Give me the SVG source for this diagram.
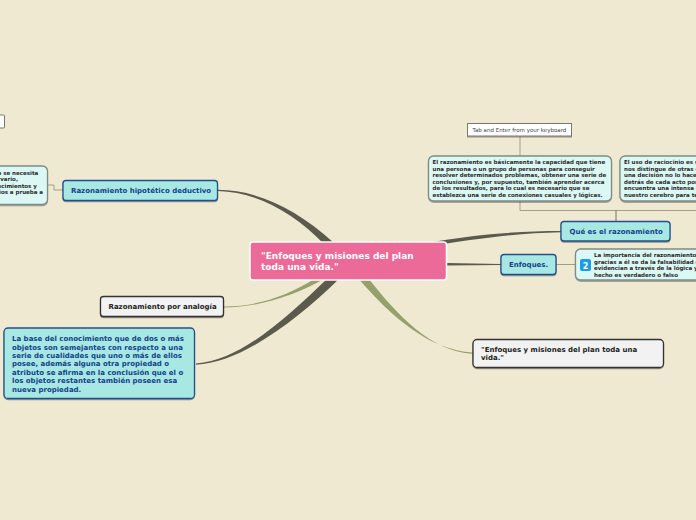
<svg xmlns="http://www.w3.org/2000/svg" width="696" height="520" viewBox="0 0 696 520">
<style>
text{font-family:"DejaVu Sans",sans-serif;font-weight:700}
.dk{fill:#222}
.bl{fill:#14408c}
.t6{font-size:5.500px;fill:#2a2a2a}
.box{stroke-width:1.300}
.cy{fill:#a8e8e2;stroke:#24508c}
.lc{fill:#dcf8f5;stroke:#7d8a88}
.wh{fill:#f2f2f2;stroke:#333}
.thin{fill:none;stroke:#a49d88;stroke-width:1}
</style>
<defs><filter id="s" x="-5%" y="-10%" width="110%" height="125%"><feDropShadow dx="0" dy="1" stdDeviation="0.7" flood-color="#000" flood-opacity=".4"/></filter></defs>
<rect width="696" height="520" fill="#f0e9d2"/>
<g id="connectors">
<path d="M218 189.800C255 190 295 207 334 243L325 245C292 211 255 192 218 191Z" fill="#5b5a4c"/>
<path d="M196 363.500C240 360 282 322 328 278L340 278C295 322 240 363 196 364.700Z" fill="#5b5a4c"/>
<path d="M224 306.500C258 306 285 297 316 278L326 278C292 297 258 307 224 307.600Z" fill="#95a06c"/>
<path d="M472.500 352.500C430 350 392 318 358 278L368 278C398 316 432 352 472.500 353.700Z" fill="#95a06c"/>
<path d="M561 231C520 231 480 234 425 243L425 247C480 238 520 233 561 232.200Z" fill="#5b5a4c"/>
<path d="M501 264L447 263V265.500L501 265Z" fill="#5b5a4c"/>
<path class="thin" d="M520 136V156M520 201V210.500H696"/>
<path class="thin" style="stroke:#77725f" d="M616 210.500V221"/>
<path class="thin" d="M63 190H54V185H48"/>
<path class="thin" d="M556 264.500H575"/>
</g>
<g id="n-top-left"><rect x="-20" y="115" width="24.500" height="13" rx="1" fill="#fff" stroke="#777"/></g>
<g id="n-frag-left"><rect x="-40" y="166" width="87.500" height="38.500" rx="5" class="box lc" filter="url(#s)"/>
<text class="t6"><tspan x="-2.500" y="175">o se necesita</tspan><tspan x="-2.500" y="181">rvario,</tspan><tspan x="-2.500" y="187.500">ecimientos y</tspan><tspan x="-1" y="194">ios a prueba a</tspan></text></g>
<g id="n-hipotetico"><rect x="63" y="180.500" width="154.500" height="20" rx="3" class="box cy" filter="url(#s)"/>
<text class="bl" x="71" y="193" font-size="7">Razonamiento hipotético deductivo</text></g>
<g id="n-central"><rect x="250" y="242" width="196.500" height="38" rx="3" fill="#ec6a97" stroke="#fff" stroke-width="1.500"/>
<text fill="#fff" font-size="9"><tspan x="261" y="259">"Enfoques y misiones del plan</tspan><tspan x="261" y="270">toda una vida."</tspan></text></g>
<g id="n-analogia"><rect x="100.500" y="296.500" width="123" height="20" rx="3" class="box wh" filter="url(#s)"/>
<text class="dk" x="108.500" y="309" font-size="7">Razonamiento por analogía</text></g>
<g id="n-base"><rect x="4" y="328" width="190.500" height="70.500" rx="4" class="box cy" filter="url(#s)"/>
<text class="bl" font-size="7"><tspan x="12" y="341">La base del conocimiento que de dos o más</tspan><tspan x="12" y="349.600">objetos son semejantes con respecto a una</tspan><tspan x="12" y="358">serie de cualidades que uno o más de ellos</tspan><tspan x="12" y="366.400">posee, además alguna otra propiedad o</tspan><tspan x="12" y="375">atributo se afirma en la conclusión que el o</tspan><tspan x="12" y="383.300">los objetos restantes también poseen esa</tspan><tspan x="12" y="392">nueva propiedad.</tspan></text></g>
<g id="n-tab"><rect x="467.500" y="123.500" width="104" height="12.500" fill="#fff" stroke="#777" filter="url(#s)"/>
<text x="472.500" y="132" font-size="5.500" fill="#444" style="font-weight:400">Tab and Enter from your keyboard</text></g>
<g id="n-raz1"><rect x="428.500" y="156" width="183" height="45" rx="5" class="box lc" filter="url(#s)"/>
<text class="t6"><tspan x="432.500" y="164">El razonamiento es básicamente la capacidad que tiene</tspan><tspan x="432.500" y="170.500">una persona o un grupo de personas para conseguir</tspan><tspan x="432.500" y="177">resolver determinados problemas, obtener una serie de</tspan><tspan x="432.500" y="183.500">conclusiones y, por supuesto, también aprender acerca</tspan><tspan x="432.500" y="190">de los resultados, para lo cual es necesario que se</tspan><tspan x="432.500" y="197">establezca una serie de conexiones casuales y lógicas.</tspan></text></g>
<g id="n-raz2"><rect x="620" y="156" width="100" height="45" rx="5" class="box lc" filter="url(#s)"/>
<text class="t6"><tspan x="624" y="164">El uso de raciocinio es u</tspan><tspan x="624" y="170.500">nos distingue de otras e</tspan><tspan x="624" y="177">una decisión no lo hace</tspan><tspan x="624" y="183.500">detrás de cada acto por</tspan><tspan x="624" y="190">encuentra una intensa a</tspan><tspan x="624" y="197">nuestro cerebro para te</tspan></text></g>
<g id="n-que"><rect x="561" y="221.500" width="109" height="19.500" rx="3" class="box cy" filter="url(#s)"/>
<text class="bl" x="569.500" y="234" font-size="7">Qué es el razonamiento</text></g>
<g id="n-enfoques"><rect x="501" y="254.500" width="55" height="20" rx="3" class="box cy" filter="url(#s)"/>
<text class="bl" x="509" y="267" font-size="7">Enfoques.</text></g>
<g id="n-importancia"><rect x="575.500" y="249" width="140" height="31" rx="5" class="box lc" filter="url(#s)"/>
<rect x="580" y="259" width="11" height="12" rx="2" fill="#1c9be8"/>
<text x="585.500" y="268.500" font-size="8" fill="#fff" text-anchor="middle">2</text>
<text class="t6"><tspan x="594" y="257">La importancia del razonamiento</tspan><tspan x="594" y="263.500">gracias a él se da la falsabilidad o</tspan><tspan x="594" y="270">evidencian a través de la lógica y</tspan><tspan x="594" y="277">hecho es verdadero o falso</tspan></text></g>
<g id="n-titulo"><rect x="473" y="339.500" width="190.500" height="28" rx="4" class="box wh" filter="url(#s)"/>
<text class="dk" font-size="7"><tspan x="481" y="351.500">"Enfoques y misiones del plan toda una</tspan><tspan x="481" y="360">vida."</tspan></text></g>
</svg>
